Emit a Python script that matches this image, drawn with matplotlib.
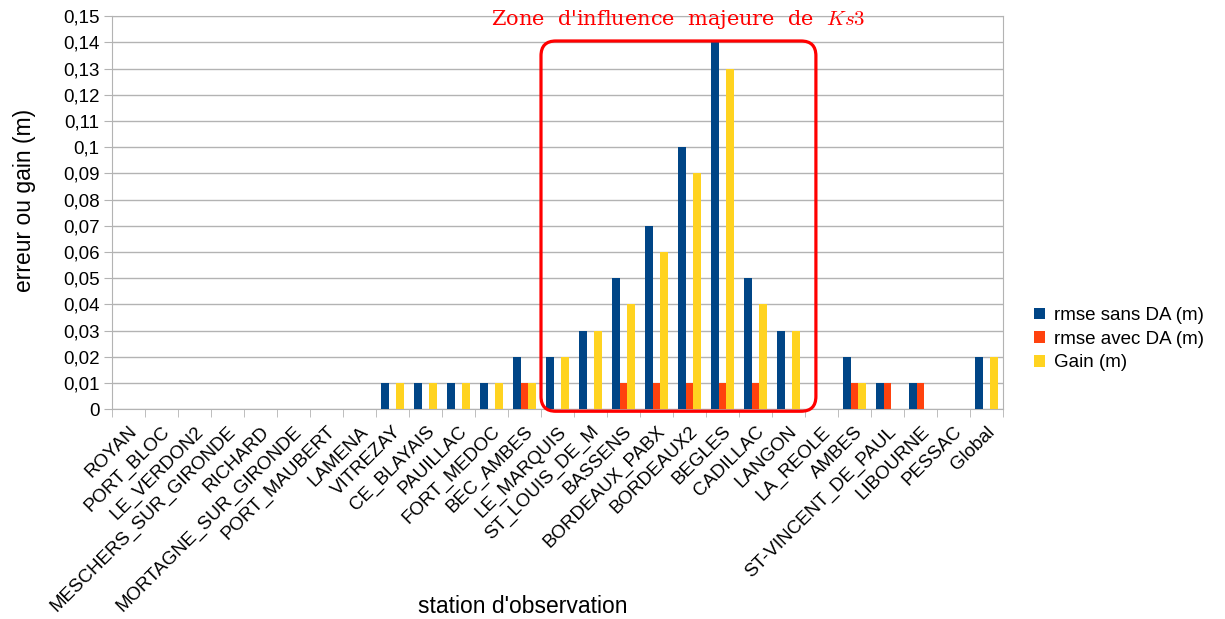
import numpy as np
import matplotlib
matplotlib.use("Agg")
from matplotlib import pyplot as plt
from matplotlib.patches import FancyBboxPatch

plt.rcParams['font.family'] = ['Liberation Sans', 'DejaVu Sans']
plt.rcParams['mathtext.fontset'] = 'cm'

stations = ["ROYAN", "PORT_BLOC", "LE_VERDON2", "MESCHERS_SUR_GIRONDE", "RICHARD",
            "MORTAGNE_SUR_GIRONDE", "PORT_MAUBERT", "LAMENA", "VITREZAY", "CE_BLAYAIS",
            "PAUILLAC", "FORT_MEDOC", "BEC_AMBES", "LE_MARQUIS", "ST_LOUIS_DE_M",
            "BASSENS", "BORDEAUX_PABX", "BORDEAUX2", "BEGLES", "CADILLAC", "LANGON",
            "LA_REOLE", "AMBES", "ST-VINCENT_DE_PAUL", "LIBOURNE", "PESSAC", "Global"]
rmse_sans = [0, 0, 0, 0, 0, 0, 0, 0, 0.01, 0.01, 0.01, 0.01, 0.02, 0.02, 0.03,
             0.05, 0.07, 0.10, 0.14, 0.05, 0.03, 0, 0.02, 0.01, 0.01, 0, 0.02]
rmse_avec = [0, 0, 0, 0, 0, 0, 0, 0, 0, 0, 0, 0, 0.01, 0, 0,
             0.01, 0.01, 0.01, 0.01, 0.01, 0, 0, 0.01, 0.01, 0.01, 0, 0]
gain = [0, 0, 0, 0, 0, 0, 0, 0, 0.01, 0.01, 0.01, 0.01, 0.01, 0.02, 0.03,
        0.04, 0.06, 0.09, 0.13, 0.04, 0.03, 0, 0.01, 0, 0, 0, 0.02]
series_names = ["rmse sans DA (m)", "rmse avec DA (m)", "Gain (m)"]
colors = ["#004586", "#ff420e", "#ffd320"]
yticks = [0, 0.01, 0.02, 0.03, 0.04, 0.05, 0.06, 0.07, 0.08, 0.09, 0.1,
          0.11, 0.12, 0.13, 0.14, 0.15]
ytick_labels = ["0", "0,01", "0,02", "0,03", "0,04", "0,05", "0,06", "0,07",
                "0,08", "0,09", "0,1", "0,11", "0,12", "0,13", "0,14", "0,15"]

fig = plt.figure(figsize=(12.25, 6.19), dpi=100)
ax = fig.add_axes([0.0914, 0.339, 0.7274, 0.635])

x = np.arange(len(stations))
w = 0.24
for k, vals in enumerate([rmse_sans, rmse_avec, gain]):
    ax.bar(x + (k - 1) * w, vals, w, color=colors[k], label=series_names[k], zorder=3)

ax.set_xlim(-0.5, len(stations) - 0.5)
ax.set_ylim(0, 0.15)
ax.set_yticks(yticks)
ax.set_yticklabels(ytick_labels, fontsize=13.5)
ax.set_xticks(x)
ax.set_xticklabels(stations, rotation=45, ha='right', rotation_mode='anchor', fontsize=13.5)
ax.set_xticks(np.arange(len(stations) + 1) - 0.5, minor=True)
ax.tick_params(axis='x', which='major', length=0, pad=10)
ax.tick_params(axis='x', which='minor', length=6, color='#b3b3b3')
ax.tick_params(axis='y', length=6, color='#b3b3b3', pad=3)
ax.grid(axis='y', color='#b3b3b3', linewidth=1, zorder=0)
for s in ax.spines.values():
    s.set_color('#b3b3b3')
    s.set_zorder(1)

ax.set_ylabel("erreur ou gain (m)", fontsize=16.5)
ax.yaxis.set_label_coords(-0.085, 0.53)
ax.set_xlabel("station d'observation", fontsize=16.5)
ax.xaxis.set_label_coords(0.461, -0.472)

# zone box
box = FancyBboxPatch((12.5, -0.0008), 8.33, 0.1413,
                     boxstyle="round,pad=0,rounding_size=0.45",
                     mutation_aspect=33 / 2620, fill=False, edgecolor='red',
                     linewidth=2.3, clip_on=False, zorder=5)
ax.add_patch(box)
ax.text(16.65, 0.1487, "Zone  d'influence  majeure  de  $Ks3$", color='red',
        fontsize=15, family='DejaVu Serif', ha='center', va='center')

fig.legend(loc='center left', bbox_to_anchor=(0.830, 0.452), frameon=False,
           fontsize=13.5, handlelength=0.6, handleheight=0.6, handletextpad=0.5,
           labelspacing=0.35)

fig.savefig('out.png', dpi=100)
